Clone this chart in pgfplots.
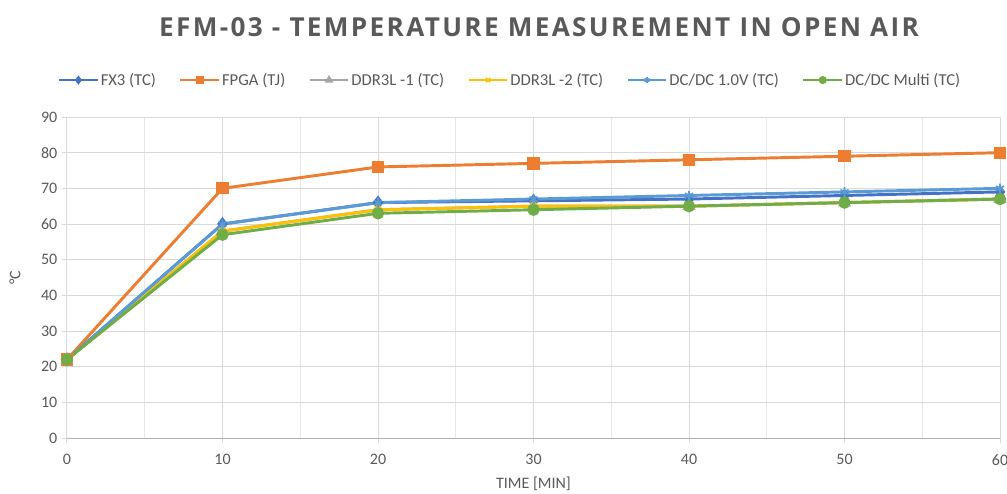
\documentclass[border=0pt]{standalone}
\usepackage{pgfplots}
\pgfplotsset{compat=1.18}
\usepackage{fontspec}
\setmainfont{Carlito}
\newfontfamily\titlefont[LetterSpace=9]{Open Sans}
\definecolor{cFX}{HTML}{4472C4}
\definecolor{cFPGA}{HTML}{ED7D31}
\definecolor{cDDRa}{HTML}{A5A5A5}
\definecolor{cDDRb}{HTML}{FFC000}
\definecolor{cDC}{HTML}{5B9BD5}
\definecolor{cDCM}{HTML}{70AD47}
\definecolor{txt}{HTML}{595959}
\definecolor{grd}{HTML}{D9D9D9}
\begin{document}
\begin{tikzpicture}
\path[use as bounding box] (-50.25pt,-41.25pt) rectangle (705pt,328.5pt);
\begin{axis}[
  at={(0pt,0pt)}, anchor=south west,
  scale only axis, width=699.75pt, height=240.75pt,
  xmin=0, xmax=60, ymin=0, ymax=90,
  xtick={0,10,...,60}, minor xtick={5,15,...,55},
  ytick={0,10,...,90},
  grid=both,
  major grid style={grd, line width=0.75pt},
  minor grid style={grd!60, line width=0.75pt},
  axis lines*=left,
  x axis line style={draw=grd!80!black, line width=0.75pt, -},
  y axis line style={draw=grd, line width=0.75pt, -},
  tick align=outside,
  major tick length=3.75pt, minor tick length=0pt,
  tick style={grd, line width=0.75pt},
  ticklabel style={font=\fontsize{12}{14}\selectfont, text=txt},
  xticklabel style={yshift=-5pt},
  /pgf/number format/assume math mode=true,
  xlabel={TIME [MIN]},
  ylabel={°C},
  xlabel style={font=\fontsize{12}{14}\selectfont, text=txt, at={(axis description cs:0.5,0)}, anchor=center, yshift=-34pt},
  ylabel style={font=\fontsize{12}{14}\selectfont, text=txt, at={(axis description cs:-0.0557,0.5)}, anchor=center},
  legend columns=6,
  legend style={at={(axis description cs:0.475,1.115)}, anchor=center, draw=none, fill=none,
    font=\fontsize{12.5}{14}\selectfont, text=txt,
    nodes={inner sep=1.5pt},
    /tikz/every even column/.append style={column sep=16pt}},
  legend image code/.code={\draw[mark repeat=2,mark phase=2,#1,line width=1.6pt,mark size=2.2pt] plot coordinates {(0pt,0pt) (14.5pt,0pt) (29pt,0pt)};},
  every axis plot/.append style={line width=2.2pt, mark size=3.5pt},
  clip=false,
]
\addplot[cFX, mark=diamond*, mark options={solid, fill=cFX}] coordinates {(0,22) (10,60) (20,66) (30,66.5) (40,67) (50,68) (60,69)};
\addlegendentry{FX3 (TC)}
\addplot[cFPGA, mark=square*, mark options={solid, fill=cFPGA}] coordinates {(0,22) (10,70) (20,76) (30,77) (40,78) (50,79) (60,80)};
\addlegendentry{FPGA (TJ)}
\addplot[cDDRa, mark=triangle*, mark options={solid, fill=cDDRa}] coordinates {(0,22) (10,58) (20,64) (30,65) (40,65) (50,66) (60,67)};
\addlegendentry{DDR3L -1 (TC)}
\addplot[cDDRb, mark=x, mark options={solid, line width=1.2pt}] coordinates {(0,22) (10,58) (20,64) (30,65) (40,65) (50,66) (60,67)};
\addlegendentry{DDR3L -2 (TC)}
\addplot[cDC, mark=asterisk, mark options={solid, line width=1.2pt}] coordinates {(0,22) (10,60) (20,66) (30,67) (40,68) (50,69) (60,70)};
\addlegendentry{DC/DC 1.0V (TC)}
\addplot[cDCM, mark=*, mark options={solid, fill=cDCM}] coordinates {(0,22) (10,57) (20,63) (30,64) (40,65) (50,66) (60,67)};
\addlegendentry{DC/DC Multi (TC)}
\end{axis}
\node[font=\titlefont\bfseries\fontsize{19.6}{24}\selectfont, text=txt] at (354pt,308.25pt) {EFM-03 - TEMPERATURE MEASUREMENT IN OPEN AIR};
\end{tikzpicture}
\end{document}
